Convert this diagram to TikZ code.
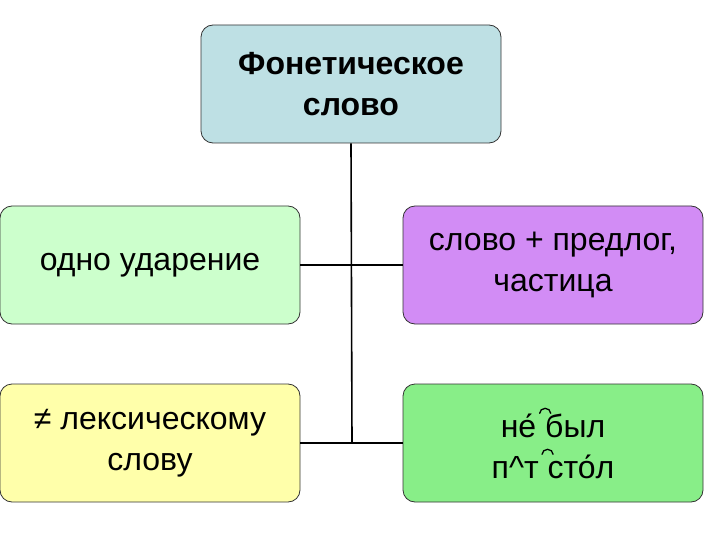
\documentclass[tikz,border=0pt]{standalone}
\usepackage{fontspec}
\setmainfont{Liberation Sans}
\newcommand{\tiearc}{\makebox[0pt]{\raisebox{0.72em}{\tikz[x=1pt,y=1pt]\draw[line width=1.3pt,line cap=round] (0,0) arc(180:0:5.5 and 5);}}}
\begin{document}
\begin{tikzpicture}[x=1pt,y=-1pt,
  box/.style={draw=black!80,line width=0.8pt,rounded corners=12pt,minimum width=300pt,minimum height=118pt,align=center,font=\fontsize{32}{41}\selectfont},
  conn/.style={line width=1.6pt}]
\useasboundingbox (0,0) rectangle (720,540);
\node[box,fill={rgb,255:red,190;green,224;blue,228}] (top) at (351,84) {\textbf{Фонетическое}\\\textbf{слово}};
\node[box,fill={rgb,255:red,204;green,255;blue,204}] (l1) at (150,265) {одно ударение};
\node[box,fill={rgb,255:red,210;green,140;blue,245}] (r1) at (553,265) {слово + предлог,\\частица};
\node[box,fill={rgb,255:red,255;green,255;blue,170}] (l2) at (150,443) {≠ лексическому\\слову};
\node[box,fill={rgb,255:red,136;green,238;blue,136}] (r2) at (553,443) {не́ \tiearc был\\п\char"005E т \tiearc сто́л};
\coordinate (j2) at (352,443);
\draw[conn] (top.south) -- (j2);
\draw[conn] (l1.east) -- (r1.west);
\draw[conn] (l2.east) -- (r2.west);
\end{tikzpicture}
\end{document}
